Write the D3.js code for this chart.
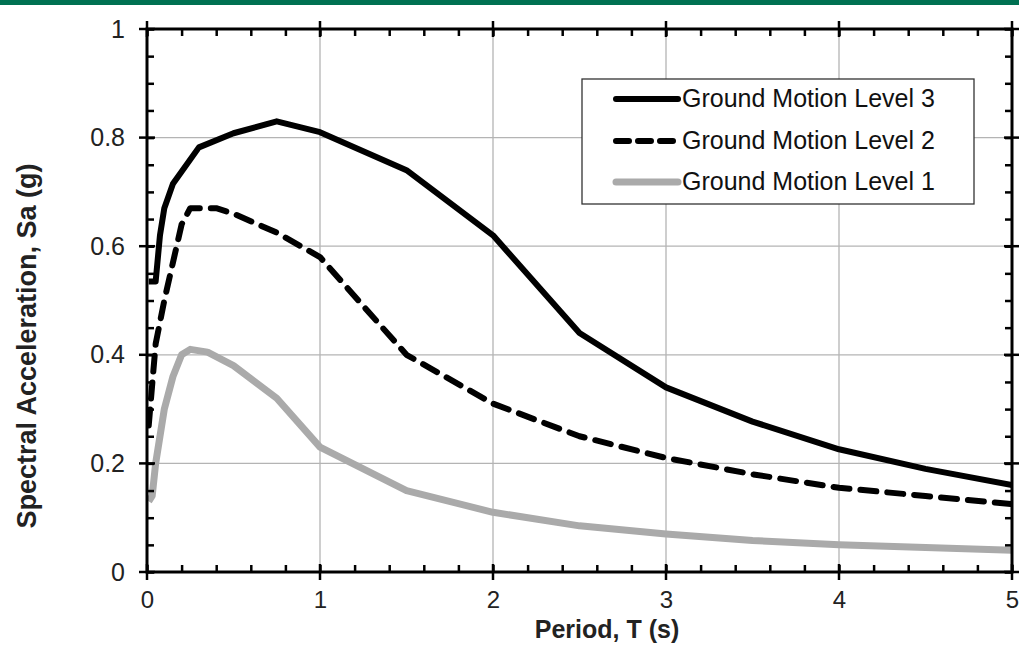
<!DOCTYPE html>
<html><head><meta charset="utf-8">
<script src="https://cdn.jsdelivr.net/npm/d3@7/dist/d3.min.js"></script>
<style>body{margin:0;background:#fff}svg{display:block}</style>
</head><body>
<svg id="c" width="1019" height="656"></svg>
<script>
const level3 = [[0.01,0.535],[0.05,0.535],[0.075,0.62],[0.1,0.67],[0.15,0.715],[0.3,0.782],[0.5,0.808],[0.75,0.83],[1.0,0.81],[1.5,0.74],[2.0,0.62],[2.5,0.44],[3.0,0.34],[3.5,0.277],[4.0,0.226],[4.5,0.19],[5.0,0.16]];
const level2 = [[0.01,0.27],[0.05,0.42],[0.1,0.5],[0.15,0.57],[0.2,0.64],[0.25,0.67],[0.4,0.67],[0.5,0.66],[0.75,0.625],[1.0,0.58],[1.5,0.40],[2.0,0.31],[2.5,0.25],[3.0,0.21],[3.5,0.18],[4.0,0.155],[4.5,0.14],[5.0,0.125]];
const level1 = [[0.01,0.13],[0.03,0.14],[0.05,0.2],[0.1,0.3],[0.15,0.36],[0.2,0.4],[0.25,0.41],[0.35,0.405],[0.5,0.38],[0.75,0.32],[1.0,0.23],[1.5,0.15],[2.0,0.11],[2.5,0.085],[3.0,0.07],[3.5,0.058],[4.0,0.05],[4.5,0.045],[5.0,0.04]];
const xTicks = [0,1,2,3,4,5];
const yTicks = [0,0.2,0.4,0.6,0.8,1];
const yTickLabels = ["0","0.2","0.4","0.6","0.8","1"];
const seriesNames = ["Ground Motion Level 3","Ground Motion Level 2","Ground Motion Level 1"];

const svg = d3.select("#c");
const L=147,R=1012,T=29,B=572;
const x = d3.scaleLinear().domain([0,5]).range([L,R]);
const y = d3.scaleLinear().domain([0,1]).range([B,T]);
const font = "'Liberation Sans', Arial, sans-serif";

svg.append("rect").attr("x",0).attr("y",0).attr("width",1019).attr("height",5).attr("fill","#007152");

// grid
svg.append("g").selectAll("line").data(xTicks.slice(1,-1)).join("line")
  .attr("x1",d=>x(d)).attr("x2",d=>x(d)).attr("y1",T).attr("y2",B).attr("stroke","#b4b4b4").attr("stroke-width",1.3);
svg.append("g").selectAll("line").data(yTicks.slice(1,-1)).join("line")
  .attr("y1",d=>y(d)).attr("y2",d=>y(d)).attr("x1",L).attr("x2",R).attr("stroke","#b4b4b4").attr("stroke-width",1.3);

// series
const line = d3.line().x(d=>x(d[0])).y(d=>y(d[1]));
const styles = [
  {data:level3,color:"#000",w:6,dash:null,ldash:null},
  {data:level2,color:"#000",w:6,dash:"16,11",ldash:"13,9"},
  {data:level1,color:"#aaaaaa",w:7,dash:null,ldash:null}
];
svg.append("clipPath").attr("id","pc").append("rect").attr("x",L).attr("y",T).attr("width",R-L).attr("height",B-T);
styles.forEach(s=>{
  svg.append("path").datum(s.data).attr("d",line).attr("fill","none")
    .attr("stroke",s.color).attr("stroke-width",s.w).attr("stroke-dasharray",s.dash)
    .attr("stroke-linejoin","round").attr("stroke-linecap",s.dash?"round":"butt")
    .attr("clip-path","url(#pc)");
});

// minor ticks inside
const minorX = d3.range(0,5.0001,0.2);
const minorY = d3.range(0,1.0001,0.05);
const ax = (gen, tx, ty)=>{
  const g = svg.append("g").attr("transform",`translate(${tx},${ty})`).call(gen);
  g.select(".domain").remove();
  g.selectAll("line").attr("stroke","#000").attr("stroke-width",2.5);
  return g;
};
ax(d3.axisBottom(x).tickValues(minorX).tickSize(-7).tickFormat(""),0,B);
ax(d3.axisTop(x).tickValues(minorX).tickSize(-7).tickFormat(""),0,T);
ax(d3.axisLeft(y).tickValues(minorY).tickSize(-7).tickFormat(""),L,0);
ax(d3.axisRight(y).tickValues(minorY).tickSize(-7).tickFormat(""),R,0);
// major ticks crossing
[B,T].forEach(p=>{
  svg.append("g").selectAll("line").data(xTicks).join("line")
   .attr("x1",d=>x(d)).attr("x2",d=>x(d)).attr("y1",p-8).attr("y2",p+8).attr("stroke","#000").attr("stroke-width",2.5);
});
[L,R].forEach(p=>{
  svg.append("g").selectAll("line").data(yTicks).join("line")
   .attr("y1",d=>y(d)).attr("y2",d=>y(d)).attr("x1",p-8).attr("x2",p+8).attr("stroke","#000").attr("stroke-width",2.5);
});
// frame
svg.append("rect").attr("x",L).attr("y",T).attr("width",R-L).attr("height",B-T).attr("fill","none").attr("stroke","#000").attr("stroke-width",3);

// tick labels
const gx = svg.append("g").attr("transform",`translate(0,${B})`).call(d3.axisBottom(x).tickValues(xTicks).tickSize(0).tickPadding(19).tickFormat(d3.format("d")));
gx.select(".domain").remove();
gx.selectAll("text").attr("font-family",font).attr("font-size",24).attr("fill","#222");
const gy = svg.append("g").attr("transform",`translate(${L},0)`).call(d3.axisLeft(y).tickValues(yTicks).tickSize(0).tickPadding(22).tickFormat((d,i)=>yTickLabels[i]));
gy.select(".domain").remove();
gy.selectAll("text").attr("font-family",font).attr("font-size",25).attr("fill","#222");

// axis titles
svg.append("text").attr("x",607).attr("y",638).attr("text-anchor","middle")
  .attr("font-family",font).attr("font-weight","bold").attr("font-size",25).attr("fill","#222").text("Period, T (s)");
svg.append("text").attr("transform",`translate(36,346) rotate(-90)`).attr("text-anchor","middle")
  .attr("font-family",font).attr("font-weight","bold").attr("font-size",27).attr("fill","#222").text("Spectral Acceleration, Sa (g)");

// legend
const lg = svg.append("g");
lg.append("rect").attr("x",582).attr("y",79).attr("width",392).attr("height",125).attr("fill","#fff").attr("stroke","#333").attr("stroke-width",1.3);
const rowY = [99,141,182];
styles.forEach((s,i)=>{
  lg.append("line").attr("x1",616).attr("x2",678).attr("y1",rowY[i]).attr("y2",rowY[i])
    .attr("stroke",s.color).attr("stroke-width",s.w).attr("stroke-dasharray",s.ldash).attr("stroke-linecap","round");
  lg.append("text").attr("x",682).attr("y",rowY[i]+8).attr("font-family",font).attr("font-size",25).attr("fill","#111").text(seriesNames[i]);
});
</script>
</body></html>
